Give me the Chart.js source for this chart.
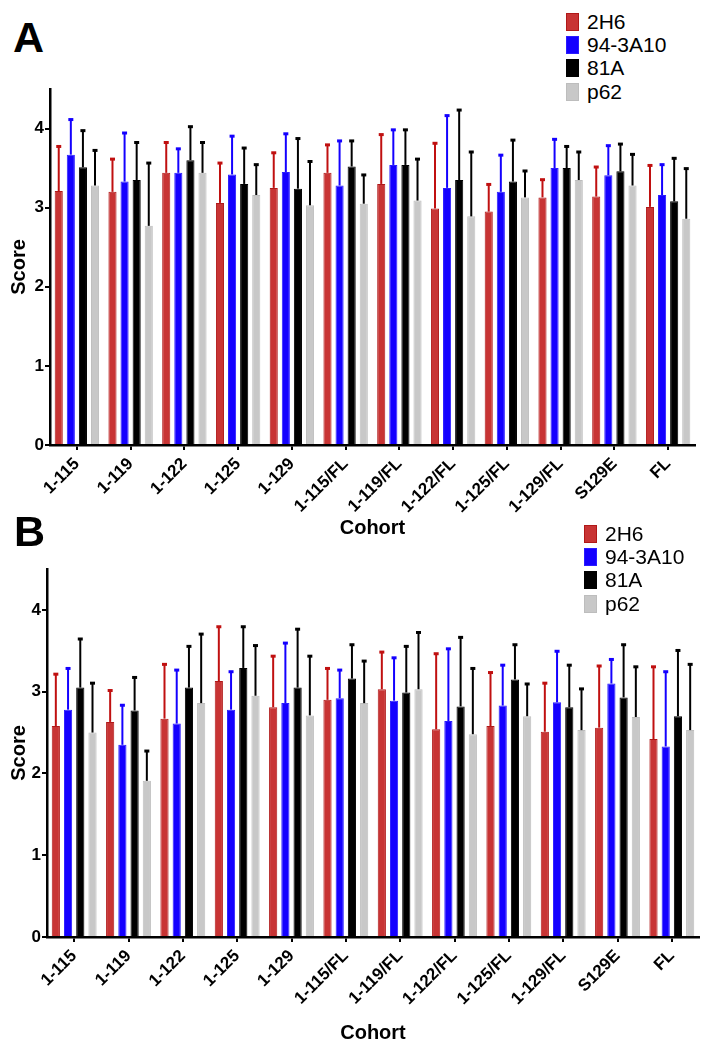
<!DOCTYPE html>
<html>
<head>
<meta charset="utf-8">
<script src="https://cdn.jsdelivr.net/npm/chart.js@4.4.1/dist/chart.umd.min.js"></script>
<style>
  body { margin: 0; background: #fff; font-family: "Liberation Sans", Arial, sans-serif; }
  #page { position: relative; width: 711px; height: 1050px; overflow: hidden; }
  .panel { position: absolute; left: 0; width: 711px; }
  .letter { position: absolute; font-weight: bold; font-size: 43px; line-height: 1; color: #000; }
  .legend { position: absolute; font-size: 21px; color: #000; }
  .legend .row { display: flex; align-items: center; height: 23.3px; }
  .legend .box { width: 13px; height: 18px; box-sizing: border-box; margin-right: 8px; }
</style>
</head>
<body>
<div id="page">
  <div class="letter" style="left:13px;top:16px;">A</div>
  <div class="legend" id="legendA" style="left:566px;top:10px;"></div>
  <div class="panel" style="top:0;height:545px;"><canvas id="chartA"></canvas></div>

  <div class="letter" style="left:14px;top:510px;">B</div>
  <div class="legend" id="legendB" style="left:584px;top:522px;"></div>
  <div class="panel" style="top:545px;height:505px;"><canvas id="chartB"></canvas></div>
</div>
<script>
// categories and series
const cohorts = ["1-115", "1-119", "1-122", "1-125", "1-129", "1-115/FL", "1-119/FL",
                 "1-122/FL", "1-125/FL", "1-129/FL", "S129E", "FL"];
const seriesNames = ["2H6", "94-3A10", "81A", "p62"];
const yTicks = [0, 1, 2, 3, 4];

// panel A means and upper error
const a2H6 = [3.21, 3.20, 3.44, 3.06, 3.25, 3.44, 3.30, 2.99, 2.95, 3.13, 3.14, 3.01];
const a2H6Err = [0.57, 0.42, 0.39, 0.51, 0.45, 0.36, 0.63, 0.83, 0.35, 0.23, 0.38, 0.53];
const a943A10 = [3.67, 3.33, 3.44, 3.42, 3.45, 3.28, 3.54, 3.25, 3.20, 3.50, 3.41, 3.16];
const a943A10Err = [0.45, 0.62, 0.31, 0.49, 0.49, 0.57, 0.45, 0.92, 0.47, 0.37, 0.38, 0.39];
const a81A = [3.51, 3.35, 3.60, 3.30, 3.24, 3.52, 3.54, 3.35, 3.33, 3.50, 3.46, 3.08];
const a81AErr = [0.47, 0.48, 0.43, 0.46, 0.64, 0.33, 0.45, 0.89, 0.53, 0.28, 0.35, 0.55];
const aP62 = [3.28, 2.77, 3.44, 3.16, 3.03, 3.05, 3.09, 2.89, 3.13, 3.35, 3.28, 2.86];
const aP62Err = [0.45, 0.80, 0.39, 0.39, 0.56, 0.37, 0.53, 0.82, 0.34, 0.36, 0.40, 0.64];

// panel B means and upper error
const b2H6 = [2.58, 2.63, 2.67, 3.13, 2.81, 2.90, 3.03, 2.54, 2.58, 2.51, 2.56, 2.42];
const b2H6Err = [0.64, 0.39, 0.67, 0.67, 0.63, 0.39, 0.46, 0.93, 0.66, 0.60, 0.76, 0.89];
const b943A10 = [2.78, 2.35, 2.61, 2.78, 2.86, 2.92, 2.89, 2.64, 2.83, 2.87, 3.10, 2.33];
const b943A10Err = [0.51, 0.49, 0.66, 0.47, 0.74, 0.35, 0.53, 0.89, 0.50, 0.63, 0.30, 0.92];
const b81A = [3.05, 2.77, 3.05, 3.29, 3.05, 3.16, 2.99, 2.82, 3.15, 2.81, 2.93, 2.70];
const b81AErr = [0.60, 0.41, 0.51, 0.51, 0.72, 0.42, 0.57, 0.85, 0.43, 0.52, 0.65, 0.81];
const bP62 = [2.50, 1.91, 2.86, 2.95, 2.71, 2.86, 3.03, 2.48, 2.70, 2.53, 2.69, 2.53];
const bP62Err = [0.61, 0.37, 0.85, 0.62, 0.73, 0.52, 0.70, 0.81, 0.40, 0.51, 0.62, 0.81];

const fills = ["#c83434", "#1400ff", "#000000", "#c8c8c8"];
const borders = ["#b01818", "#2a1cff", "#000000", "#bdbdbd"];
const whiskers = ["#c01010", "#1400ff", "#000000", "#000000"];
const FONT = "'Liberation Sans', Arial, sans-serif";

// draws the upper error bar on each bar
const errorBars = {
    id: "errorBars",
    afterDatasetsDraw(chart) {
        const ctx = chart.ctx;
        const yScale = chart.scales.y;
        chart.data.datasets.forEach((ds, i) => {
            const meta = chart.getDatasetMeta(i);
            ctx.save();
            ctx.strokeStyle = whiskers[i];
            meta.data.forEach((bar, j) => {
                const top = yScale.getPixelForValue(ds.data[j] + ds.errors[j]);
                ctx.lineWidth = 2;
                ctx.beginPath();
                ctx.moveTo(bar.x, bar.y);
                ctx.lineTo(bar.x, top);
                ctx.stroke();
                ctx.lineWidth = 3;
                ctx.beginPath();
                ctx.moveTo(bar.x - 2.5, top + 0.5);
                ctx.lineTo(bar.x + 2.5, top + 0.5);
                ctx.stroke();
            });
            ctx.restore();
        });
    }
};

function buildLegend(id) {
    const el = document.getElementById(id);
    seriesNames.forEach((name, i) => {
        const row = document.createElement("div");
        row.className = "row";
        const box = document.createElement("div");
        box.className = "box";
        box.style.background = fills[i];
        box.style.border = "1.5px solid " + borders[i];
        const label = document.createElement("span");
        label.textContent = name;
        row.appendChild(box);
        row.appendChild(label);
        el.appendChild(row);
    });
}

function makeChart(canvasId, series, errs, geo) {
    const datasets = series.map((vals, i) => ({
        label: seriesNames[i],
        data: vals,
        errors: errs[i],
        backgroundColor: fills[i],
        borderColor: borders[i],
        borderWidth: 1,
        categoryPercentage: 0.9,
        barPercentage: 0.67
    }));

    return new Chart(document.getElementById(canvasId), {
        type: "bar",
        data: { labels: cohorts, datasets: datasets },
        options: {
            responsive: true,
            maintainAspectRatio: false,
            animation: false,
            layout: { padding: { top: geo.top, right: geo.right, left: 0, bottom: 0 } },
            plugins: { legend: { display: false }, tooltip: { enabled: false } },
            scales: {
                x: {
                    grid: { display: true, offset: false, drawOnChartArea: false, drawTicks: true,
                            tickLength: 5, lineWidth: 2, color: "#000" },
                    border: { display: true, color: "#000", width: 2.5 },
                    ticks: { color: "#000", autoSkip: false, maxRotation: 45, minRotation: 45,
                             padding: 4, font: { family: FONT, size: 17, weight: "bold" } },
                    title: { display: true, text: "Cohort", color: "#000",
                             padding: { top: 0, bottom: 5 },
                             font: { family: FONT, size: 20, weight: "bold" } },
                    afterFit: scale => { scale.height = geo.xHeight; }
                },
                y: {
                    min: 0,
                    max: 4.5,
                    grid: { display: true, drawOnChartArea: false, drawTicks: true,
                            tickLength: 5, lineWidth: 2, color: "#000" },
                    border: { display: true, color: "#000", width: 2.5 },
                    ticks: { color: "#000", stepSize: 1, padding: 1,
                             font: { family: FONT, size: 17, weight: "bold" } },
                    afterBuildTicks: scale => {
                        scale.ticks = yTicks.map(v => ({ value: v }));
                    },
                    title: { display: true, text: "Score", color: "#000",
                             padding: { top: 7, bottom: 0 },
                             font: { family: FONT, size: 20, weight: "bold" } },
                    afterFit: scale => { scale.width = geo.yWidth; }
                }
            }
        },
        plugins: [errorBars]
    });
}

buildLegend("legendA");
buildLegend("legendB");

makeChart("chartA",
    [a2H6, a943A10, a81A, aP62],
    [a2H6Err, a943A10Err, a81AErr, aP62Err],
    { top: 89, right: 16, yWidth: 50, xHeight: 100 });

makeChart("chartB",
    [b2H6, b943A10, b81A, bP62],
    [b2H6Err, b943A10Err, b81AErr, bP62Err],
    { top: 24, right: 12, yWidth: 47, xHeight: 113 });
</script>
</body>
</html>
